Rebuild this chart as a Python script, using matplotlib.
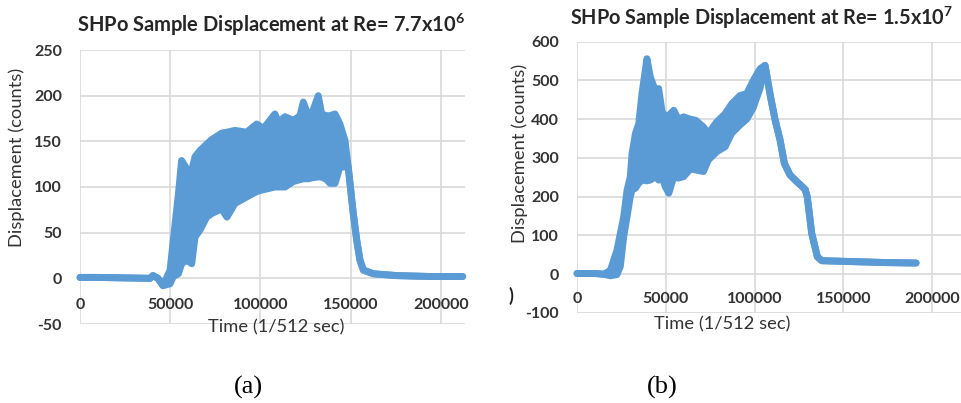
# -*- coding:utf-8 -*-
"""
SHPo sample displacement, two Reynolds numbers, Excel-like look
"""
import matplotlib
matplotlib.use("Agg")
import matplotlib.pyplot as plt

plt.rcParams['font.family'] = ['Lato', 'DejaVu Sans']

# ---- panel (a): Re = 7.7x10^6, envelope of the noisy trace
time_a = [0, 9400, 38800, 40400, 43200, 46000, 49900, 51700, 54500, 56300, 59100, 61900,
          63700, 66500, 70200, 73000, 78500, 81400, 85900, 92300, 97900, 101600, 108000,
          109900, 113600, 118200, 121900, 123700, 126500, 128400, 132000, 133900, 136700,
          138500, 141300, 144000, 146800, 148600, 151400, 153300, 155100, 157000, 162500,
          175400, 194000, 212000]
upper_a = [1, 1, 0, 3, 0, -8, 9, 42, 92, 129, 120, 118,
           133, 140, 147, 152, 159, 160, 162, 160, 169, 164, 180,
           171, 177, 173, 178, 193, 178, 180, 200, 180, 178,
           178, 180, 169, 151, 122, 71, 42, 20, 9, 5,
           3, 2, 2]
lower_a = [1, 1, 0, 3, 0, -8, -6, 2, 5, 16, 20, 16,
           45, 53, 67, 71, 76, 67, 82, 89, 95, 97, 100,
           100, 100, 106, 108, 109, 109, 110, 111, 111, 108,
           104, 104, 122, 122, 122, 71, 42, 20, 9, 5,
           3, 2, 2]
xticks_a = [0, 50000, 100000, 150000, 200000]
yticks_a = [-50, 0, 50, 100, 150, 200, 250]

# ---- panel (b): Re = 1.5x10^7
time_b = [0, 10000, 15000, 18800, 22500, 24400, 26300, 28200, 30000, 31000, 32900, 34800,
          36600, 39400, 41300, 44100, 46000, 47900, 49700, 51700, 54500, 57000, 60100,
          63900, 67000, 71200, 74000, 78700, 83400, 87200, 91800, 95600, 99300, 103100,
          105900, 109000, 111600, 114400, 116800, 120000, 123800, 128500, 129700, 132200,
          135400, 137900, 145000, 160000, 175000, 191000]
upper_b = [2, 2, 0, 10, 62, 105, 148, 217, 251, 311, 363, 389,
           466, 556, 509, 474, 479, 420, 407, 410, 423, 400, 406,
           400, 397, 380, 363, 393, 414, 440, 461, 466, 500, 530,
           539, 458, 398, 346, 286, 256, 239, 219, 200, 106,
           45, 35, 34, 32, 30, 29]
lower_b = [2, 2, 0, -4, -1, 20, 97, 149, 200, 218, 222, 235,
           243, 241, 243, 252, 243, 252, 226, 209, 252, 248, 252,
           272, 269, 265, 295, 316, 329, 364, 385, 400, 430, 480,
           539, 458, 398, 346, 286, 256, 239, 219, 200, 106,
           45, 35, 34, 32, 30, 29]
xticks_b = [0, 50000, 100000, 150000, 200000]
yticks_b = [-100, 0, 100, 200, 300, 400, 500, 600]

BLUE = '#5B9BD5'
GRID = '#D9D9D9'
TEXT = '#333333'
W, H = 961, 403


def px_box(x0, y0, x1, y1):
    """pixel box (top-left origin) -> figure fraction rect"""
    return [x0 / W, 1 - y1 / H, (x1 - x0) / W, (y1 - y0) / H]


def draw_panel(ax, time, upper, lower, xlim, ylim, xticks, yticks, xpad):
    ax.fill_between(time, lower, upper, color=BLUE, lw=0, zorder=2)
    for y in (upper, lower):
        ax.plot(time, y, color=BLUE, lw=5, solid_capstyle='round',
                solid_joinstyle='round', zorder=3, clip_on=False)
    ax.set_xlim(xlim)
    ax.set_ylim(ylim)
    ax.set_xticks(xticks)
    ax.set_xticklabels([str(t) for t in xticks])
    ax.set_yticks(yticks)
    ax.set_yticklabels([str(t) for t in yticks])
    ax.grid(True, color=GRID, lw=1.2)
    ax.set_axisbelow(True)
    for s in ax.spines.values():
        s.set_visible(False)
    ax.spines['bottom'].set_position(('data', 0))  # excel: labels sit under the 0 line
    ax.tick_params(length=0, labelsize=11.5, labelcolor=TEXT)
    ax.tick_params(axis='x', pad=xpad)
    ax.tick_params(axis='y', pad=13)
    for lab in ax.get_xticklabels() + ax.get_yticklabels():
        lab.set_fontweight('bold')


fig = plt.figure(figsize=(W / 100, H / 100), dpi=100)
ax_a = fig.add_axes(px_box(80, 50, 465, 324))
ax_b = fig.add_axes(px_box(577, 41.7, 961, 313))

draw_panel(ax_a, time_a, upper_a, lower_a, (0, 213300), (-50, 250), xticks_a, yticks_a, 14)
draw_panel(ax_b, time_b, upper_b, lower_b, (0, 216300), (-100, 600), xticks_b, yticks_b, 13)

# titles
fig.text(77 / W, 1 - 31.7 / H, r'SHPo Sample Displacement at Re= 7.7x10$^{\mathregular{6}}$',
         fontsize=14.5, fontweight='bold', color='#262626', va='baseline', ha='left')
fig.text(570 / W, 1 - 25 / H, r'SHPo Sample Displacement at Re= 1.5x10$^{\mathregular{7}}$',
         fontsize=14.3, fontweight='bold', color='#262626', va='baseline', ha='left')

# axis titles
fig.text(276 / W, 1 - 327 / H, 'Time (1/512 sec)', fontsize=13.2, color=TEXT, ha='center', va='center')
fig.text(722 / W, 1 - 324 / H, 'Time (1/512 sec)', fontsize=13.2, color=TEXT, ha='center', va='center')
fig.text(17 / W, 1 - 157 / H, 'Displacement (counts)', fontsize=13.2, color=TEXT,
         rotation=90, ha='center', va='center')
fig.text(520 / W, 1 - 153 / H, 'Displacement (counts)', fontsize=13.2, color=TEXT,
         rotation=90, ha='center', va='center')

# leftover of the cropped original
fig.text(511 / W, 1 - 296 / H, ')', fontsize=13, fontweight='bold', color='#202020',
         ha='center', va='center')

# captions
fig.text(248 / W, 1 - 387 / H, '(a)', family='Liberation Serif', fontsize=19, ha='center', va='center')
fig.text(662 / W, 1 - 387 / H, '(b)', family='Liberation Serif', fontsize=19, ha='center', va='center')

fig.savefig('out.png', dpi=100)
